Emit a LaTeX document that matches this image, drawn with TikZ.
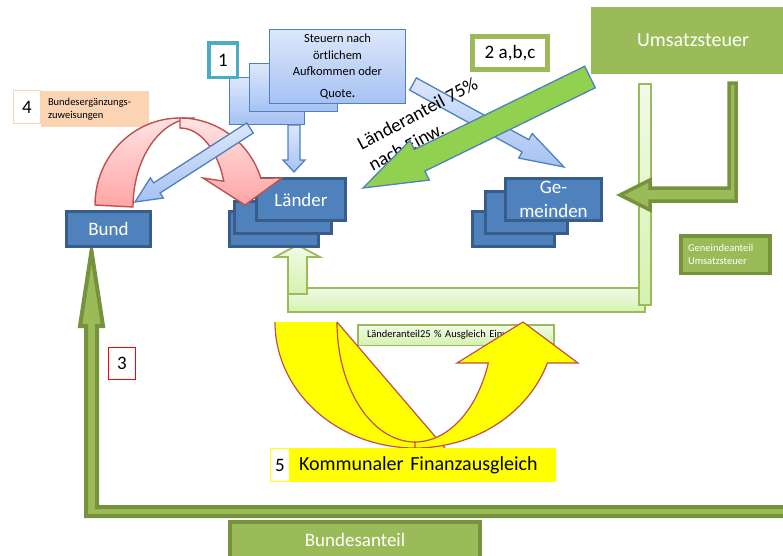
\documentclass[tikz,border=0pt]{standalone}
\usepackage{fontspec}
\setmainfont{Carlito}
\usetikzlibrary{calc}

\definecolor{boxblue}{HTML}{4F81BD}
\definecolor{edgeblue}{HTML}{385D8A}
\definecolor{paleblue}{HTML}{DDE7FA}
\definecolor{skyblue}{HTML}{A6C2F3}
\definecolor{boxolive}{HTML}{9BBB59}
\definecolor{darkolive}{HTML}{76923C}
\definecolor{brightlime}{HTML}{92D050}
\definecolor{palegreen}{HTML}{F1FAE9}
\definecolor{mintgreen}{HTML}{D5F2AE}
\definecolor{numteal}{HTML}{4BACC6}
\definecolor{peach}{HTML}{FBD4B4}
\definecolor{rosered}{HTML}{C0504D}
\definecolor{pinktop}{HTML}{FFE3E3}
\definecolor{pinkbottom}{HTML}{FFA5A5}
\definecolor{signyellow}{HTML}{FFFF00}

% block arrow: [style]{tail}{tip}{shaft half width}{head half width}{head length}
\newcommand{\blockarrow}[6][]{%
  \coordinate (ba-tail) at #2;
  \coordinate (ba-tip) at #3;
  \coordinate (ba-base) at ($(ba-tip)!#6pt!(ba-tail)$);
  \path[#1] ($(ba-tail)!#4pt!90:(ba-tip)$)
    -- ($(ba-base)!#4pt!-90:(ba-tail)$)
    -- ($(ba-base)!#5pt!-90:(ba-tail)$)
    -- (ba-tip)
    -- ($(ba-base)!#5pt!90:(ba-tail)$)
    -- ($(ba-base)!#4pt!90:(ba-tail)$)
    -- ($(ba-tail)!#4pt!-90:(ba-tip)$) -- cycle;
}

\begin{document}
\begin{tikzpicture}[x=1pt, y=-1pt,
    bigtext/.style={font=\fontsize{19}{24}\selectfont},
    largetext/.style={font=\fontsize{20}{24}\selectfont},
    smalltext/.style={font=\fontsize{10.5}{13}\selectfont},
    bluebox/.style={draw=edgeblue, fill=boxblue, line width=3pt, text=white, bigtext, inner sep=0pt},
    palebox/.style={draw=boxblue, line width=1.3pt, top color=paleblue, bottom color=skyblue, inner sep=0pt},
    olivebox/.style={draw=darkolive, fill=boxolive, line width=3.5pt, text=white, inner sep=0pt},
    numbox/.style={fill=white, bigtext, inner sep=0pt},
    palearrow/.style={draw=boxblue, line width=1.3pt, top color=paleblue, bottom color=skyblue},
    mintbar/.style={draw=boxolive, line width=1.8pt, top color=palegreen, bottom color=mintgreen},
    olivearrow/.style={draw=darkolive, line width=3.5pt, fill=boxolive, line join=miter},
    pinkarrow/.style={draw=rosered, line width=1.4pt, top color=pinktop, bottom color=pinkbottom},
    yellowline/.style={draw=rosered, line width=1.2pt}]
  \useasboundingbox (0,0) rectangle (783,555);

  % Umsatzsteuer
  \node[fill=boxolive, text=white, largetext, minimum width=204pt, minimum height=67pt] (umsatz) at (693,40.5) {Umsatzsteuer};
  \path[mintbar] (288,288) rectangle (645,312);
  \path[mintbar] (639,84) rectangle (651,305);
  \path[mintbar] (288,294) -- (288,257) -- (275,257) -- (297.5,245) -- (320,257) -- (307,257) -- (307,294) -- cycle;
  \path[olivearrow] (729,83) -- (736,83) -- (736,201) -- (650,201) -- (650,210) -- (620,195) -- (650,180) -- (650,188) -- (729,188) -- cycle;
  \node[olivebox, smalltext, align=left, text width=75pt, inner xsep=7pt, minimum height=37.5pt] (gemanteil) at (725.5,254.5) {Geneindeanteil\\Umsatzsteuer};

  % Bundesanteil
  \path[olivearrow, line width=4pt] (790,507) -- (97,507) -- (97,326) -- (103,326) -- (91.5,251) -- (80,326) -- (86,326) -- (86,516) -- (790,516) -- cycle;
  \node[olivebox, line width=4pt, bigtext, minimum width=250pt, minimum height=36pt] (bundanteil) at (355,540) {Bundesanteil};
  \node[numbox, draw=red, line width=0.9pt, minimum width=27pt, minimum height=32pt] (n3) at (122,363.5) {3};

  % Kommunaler Finanzausgleich
  \node[draw=boxolive, line width=1.5pt, top color=palegreen, bottom color=mintgreen, smalltext, align=left, text width=178pt, inner xsep=9pt, inner ysep=0pt, minimum height=20.5pt] (laenderanteil) at (456,335) {Länderanteil25 \% Ausgleich Einw.};
  \fill[signyellow] (275,322) arc[start angle=180, end angle=90, x radius=140, y radius=126] -- (445,448) -- (337,322) -- cycle;
  \draw[yellowline] (275,322) arc[start angle=180, end angle=90, x radius=140, y radius=126];
  \draw[yellowline] (337,322) -- (445,448);
  \draw[yellowline] (337,322) arc[start angle=180, end angle=90, x radius=78, y radius=120];
  \path[yellowline, fill=signyellow] (415,448) arc[start angle=90, end angle=19, x radius=140, y radius=126]
    -- (578,363) -- (523,322) -- (457,363) -- (488.3,363)
    arc[start angle=20, end angle=90, x radius=78, y radius=120] -- cycle;
  \node[numbox, draw=signyellow, line width=0.8pt, minimum width=19pt, minimum height=33pt] (n5) at (280,465) {5};
  \node[fill=signyellow, largetext, align=left, text width=248pt, inner xsep=9pt, inner ysep=0pt, minimum height=34pt] (kfa) at (423,465) {Kommunaler Finanzausgleich};

  % Bund, Laender, Gemeinden
  \node[bluebox, minimum width=84pt, minimum height=35pt] (bund) at (108.5,229) {Bund};
  \node[bluebox, minimum width=89pt, minimum height=35pt] (laender-c) at (274,229) {};
  \node[bluebox, minimum width=97pt, minimum height=32pt] (laender-b) at (283,217.5) {};
  \node[bluebox, minimum width=89pt, minimum height=42pt] (laender) at (301,199.5) {Länder};
  \node[bluebox, minimum width=82pt, minimum height=35pt] (gem-c) at (513.5,229) {};
  \node[bluebox, minimum width=82pt, minimum height=42pt] (gem-b) at (526.5,212.5) {};
  \node[bluebox, align=center, minimum width=96pt, minimum height=42pt] (gem) at (553.5,199.5) {Ge-\\meinden};

  % Steuern nach oertlichem Aufkommen
  \node[palebox, minimum width=74.7pt, minimum height=46.7pt] (steuern-c) at (267,101) {};
  \node[palebox, minimum width=87.7pt, minimum height=47.7pt] (steuern-b) at (293.5,87.5) {};
  \node[palebox, font=\fontsize{12.5}{16.5}\selectfont, align=center, minimum width=135.7pt, minimum height=73.7pt] (steuern) at (337.5,66.5) {Steuern nach\\örtlichem\\Aufkommen oder\\[5pt]Quote{\bfseries.}};
  \node[numbox, draw=numteal, line width=3.5pt, minimum width=28.5pt, minimum height=34.5pt] (n1) at (223,60) {1};
  \blockarrow[palearrow]{(294,125)}{(294,172)}{6}{11}{12}

  % Bundesergaenzungszuweisungen
  \node[numbox, draw=peach, line width=0.8pt, minimum width=27.2pt, minimum height=33.2pt] (n4) at (27,107) {4};
  \node[fill=peach, smalltext, align=left, text width=94pt, inner xsep=7pt, inner ysep=0pt, minimum height=36pt] (bez) at (95,109) {Bundesergänzungs-\\zuweisungen};
  \path[pinkarrow] (95,205) arc[start angle=180, end angle=270, x radius=85, y radius=87]
    -- (195,118) arc[start angle=270, end angle=180, x radius=62, y radius=89] -- cycle;
  \path[pinkarrow] (180,118) arc[start angle=270, end angle=342, x radius=85, y radius=87]
    -- (282,178) -- (245,205) -- (203,178) -- (223.7,181.2)
    arc[start angle=342, end angle=270, x radius=46, y radius=77] -- cycle;
  \blockarrow[palearrow]{(250,128)}{(135,202)}{6}{12}{26}

  % Laenderanteil nach Einwohnern
  \blockarrow[palearrow]{(413,84)}{(564,167)}{7}{14}{44}
  \node[bigtext, rotate=28, align=left] (anteiltext) at (423,124) {Länderanteil 75\%\\nach Einw.};
  \blockarrow[draw=boxblue, line width=1.3pt, fill=brightlime]{(590,77)}{(363,188)}{12}{22}{63}
  \node[numbox, draw=boxolive, line width=5pt, minimum width=75pt, minimum height=33pt] (n2) at (510,53) {2 a,b,c};
\end{tikzpicture}
\end{document}
